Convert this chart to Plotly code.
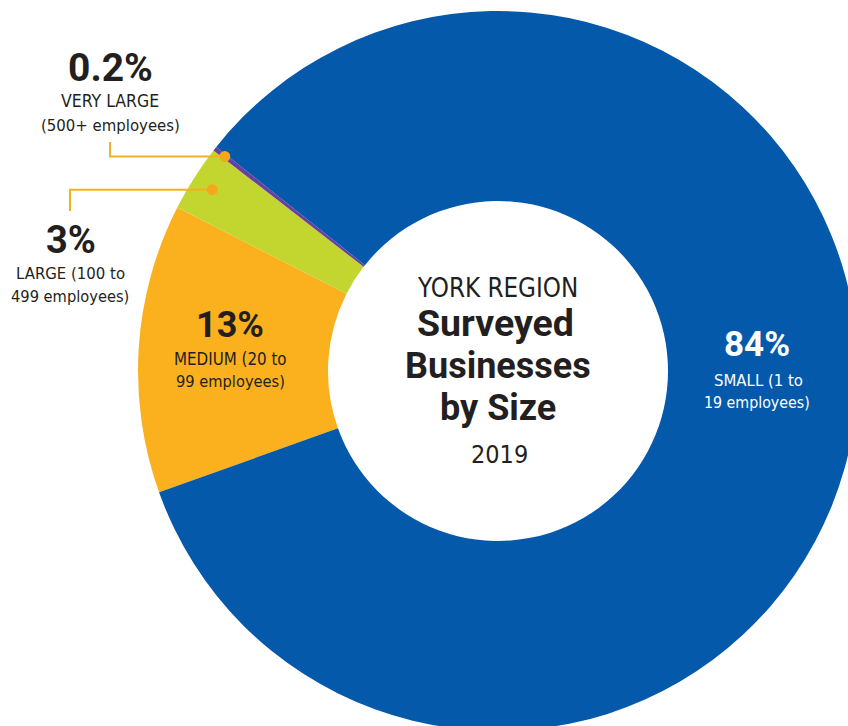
import math
import plotly.graph_objects as go

# ---- data ----
categories = ["MEDIUM (20 to 99 employees)", "LARGE (100 to 499 employees)",
              "VERY LARGE (500+ employees)", "SMALL (1 to 19 employees)"]
values = [13, 3, 0.2, 84]
pct_labels = ["13%", "3%", "0.2%", "84%"]
colors = ["#FBB01E", "#C3D52F", "#6B3FA0", "#0559AA"]

title_lines = ["YORK REGION", "Surveyed", "Businesses", "by Size", "2019"]

# ---- geometry (pixels) ----
W, H = 860, 735          # figure a little larger than the window; page is cropped
CX, CY, R = 498, 371, 360
HOLE = 170 / 360
ROT = -109.7             # clockwise degrees from 12 o'clock where first slice starts

FONT_R = "DejaVu Sans Condensed, Roboto, sans-serif"
FONT_B = "Roboto, DejaVu Sans Condensed, sans-serif"
DARK = "#231F20"
LINE = "#F4B023"

fig = go.Figure()
fig.add_trace(go.Pie(
    labels=categories, values=values, sort=False, direction="clockwise",
    rotation=ROT, hole=HOLE, textinfo="none", hoverinfo="label+percent",
    marker=dict(colors=colors, line=dict(width=0)), showlegend=False,
    domain=dict(x=[(CX - R) / W, (CX + R) / W], y=[1 - (CY + R) / H, 1 - (CY - R) / H]),
))

# hidden pixel-space axes for annotations / connectors
fig.add_trace(go.Scatter(x=[0, W], y=[0, H], mode="markers", marker=dict(opacity=0),
                         hoverinfo="skip", showlegend=False))

total = sum(values)

def slice_point(i, rfrac):
    cum = sum(values[:i])
    theta = math.radians(ROT + (cum + values[i] / 2) / total * 360)
    return CX + R * rfrac * math.sin(theta), CY - R * rfrac * math.cos(theta)

shapes = []
# VERY LARGE connector
vx, vy = slice_point(2, 0.965)
shapes.append(dict(type="path", path=f"M {vx},{vy} H 110 V 142",
                   line=dict(color=LINE, width=2), xref="x", yref="y"))
shapes.append(dict(type="circle", x0=vx - 5.5, x1=vx + 5.5, y0=vy - 5.5, y1=vy + 5.5,
                   fillcolor="#F5A81C", line=dict(width=0), xref="x", yref="y"))
# LARGE connector
lx, ly = slice_point(1, 0.94)
shapes.append(dict(type="path", path=f"M {lx},{ly} H 70 V 211",
                   line=dict(color=LINE, width=2), xref="x", yref="y"))
shapes.append(dict(type="circle", x0=lx - 5.5, x1=lx + 5.5, y0=ly - 5.5, y1=ly + 5.5,
                   fillcolor="#F5A81C", line=dict(width=0), xref="x", yref="y"))

ann = []
def txt(x, y, s, size, color=DARK, bold=False):
    ann.append(dict(x=x, y=y, xref="x", yref="y", text=s, showarrow=False,
                    xanchor="center", yanchor="middle",
                    font=dict(family=FONT_B if bold else FONT_R, size=size, color=color,
                              weight=700 if bold else 400)))

# VERY LARGE
txt(110, 67.5, pct_labels[2], 39, bold=True)
txt(110, 100.5, "VERY LARGE", 17.5)
txt(110, 125.5, "(500+ employees)", 16.6)
# LARGE
txt(71, 239.5, pct_labels[1], 38, bold=True)
txt(70, 273.5, "LARGE (100 to", 16.6)
txt(70, 296.5, "499 employees)", 16.3)
# MEDIUM
txt(230, 325, pct_labels[0], 36, bold=True)
txt(230, 358.5, "MEDIUM (20 to", 16.8)
txt(230, 381.5, "99 employees)", 16.3)
# SMALL
txt(757, 344, pct_labels[3], 35, color="white", bold=True)
txt(758, 380.5, "SMALL (1 to", 16.6, color="white")
txt(757, 402.5, "19 employees)", 15.8, color="white")

# centre title
txt(497, 288, title_lines[0], 25.7)
txt(495, 323, title_lines[1], 37.5, bold=True)
txt(498, 365.5, title_lines[2], 36, bold=True)
txt(498, 407.5, title_lines[3], 36, bold=True)
txt(499, 454.5, title_lines[4], 25)

fig.update_layout(
    width=W, height=H, margin=dict(l=0, r=0, t=0, b=0),
    paper_bgcolor="white", plot_bgcolor="rgba(0,0,0,0)",
    xaxis=dict(range=[0, W], visible=False, fixedrange=True, domain=[0, 1]),
    yaxis=dict(range=[H, 0], visible=False, fixedrange=True, domain=[0, 1]),
    shapes=shapes, annotations=ann, showlegend=False,
)

fig.write_html("out.html", config={"displayModeBar": False},
               post_script="document.documentElement.style.overflow='hidden';"
                           "document.body.style.overflow='hidden';"
                           "document.body.style.margin='0';")
